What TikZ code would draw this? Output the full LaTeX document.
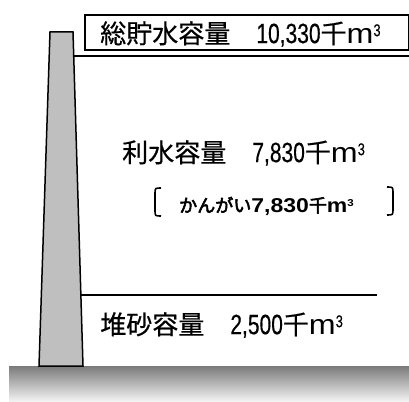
\documentclass[tikz,border=0pt]{standalone}
\usepackage{fontspec}
\setmainfont{Liberation Sans}
\newfontfamily\nar[FakeStretch=0.75,FakeBold=0.4]{Liberation Sans}
\newfontfamily\wid[FakeStretch=1.15]{Liberation Sans}
\newfontfamily\jp[Scale=0.93,FakeBold=0.5]{Noto Sans CJK JP}
\newfontfamily\jpb[Scale=0.93,FakeBold=3]{Noto Sans CJK JP}
\newcommand{\cube}[2]{\raisebox{#1}{\fontsize{#2}{#2}\selectfont 3}}
\begin{document}
\begin{tikzpicture}[x=1pt,y=-1pt]
\tikzset{vol/.style={anchor=west, inner sep=0pt, font=\fontsize{28}{30}\selectfont},
  sub/.style={anchor=west, inner sep=0pt, font=\fontsize{20}{22}\selectfont}}
\useasboundingbox (0,0) rectangle (409,401);

\shade[top color=black!52, bottom color=black!5] (9,366) rectangle (409,401);
\draw[line width=1.5pt, fill=black!25] (50,32) -- (73,32) -- (83,366) -- (39,366) -- cycle;

\draw[line width=2pt] (73,56) -- (409,56);
\draw[line width=1.5pt] (81,295) -- (377,295);

\node[draw, line width=2pt, minimum width=324pt, minimum height=35pt, anchor=north west] (box) at (84,14) {};
\node[vol] (total) at (100,34) {{\jp 総貯水容量}\hspace{26pt}{\nar 10,330}{\jp 千}{\wid m}{\nar\cube{7pt}{17}}};
\node[vol] (use) at (122,153) {{\jp 利水容量}\hspace{26pt}{\nar 7,830}{\jp 千}{\wid m}{\nar\cube{7pt}{17}}};
\node[sub] (irr) at (179,206) {{\jpb\fontsize{19.4}{20}\selectfont かんがい}{\wid\bfseries 7,830}{\jpb\fontsize{19.4}{20}\selectfont 千}{\wid\bfseries m}{\wid\bfseries\cube{6pt}{10}}};
\node[vol] (sed) at (100,325) {{\jp 堆砂容量}\hspace{26pt}{\nar 2,500}{\jp 千}{\wid m}{\nar\cube{7pt}{17}}};

\draw[line width=1.6pt] (161,188) .. controls (155,188) .. (155,194) -- (155,210) .. controls (155,216) .. (161,216);
\draw[line width=1.6pt] (387,187) .. controls (393,187) .. (393,193) -- (393,209) .. controls (393,215) .. (387,215);
\end{tikzpicture}
\end{document}
